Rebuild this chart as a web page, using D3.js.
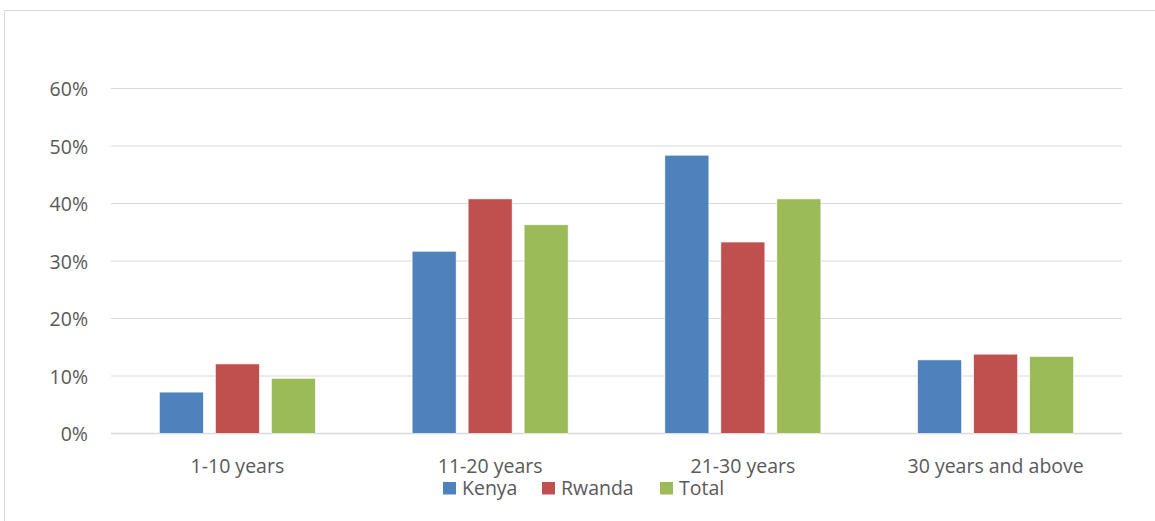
<!DOCTYPE html>
<html>
<head>
<meta charset="utf-8">
<script src="https://cdn.jsdelivr.net/npm/d3@7"></script>
<style>
  html, body { margin: 0; padding: 0; background: #fff; }
  svg { display: block; }
  text { font-family: "Open Sans", "Noto Sans", sans-serif; fill: #595959; }
</style>
</head>
<body>
<svg id="chart" width="1155" height="521"></svg>
<script>
// Years of experience, share of respondents by country
const categories = ["1-10 years", "11-20 years", "21-30 years", "30 years and above"];
const seriesNames = ["Kenya", "Rwanda", "Total"];
const kenya  = [0.072, 0.317, 0.484, 0.128];
const rwanda = [0.121, 0.408, 0.333, 0.138];
const total  = [0.096, 0.363, 0.408, 0.134];
const yTicks = [0, 0.1, 0.2, 0.3, 0.4, 0.5, 0.6];
const colors = ["#4f81bd", "#c0504d", "#9bbb59"];

const seriesValues = [kenya, rwanda, total];

const svg = d3.select("#chart");
const W = 1155, H = 521;
const margin = { left: 111, right: 33, top: 88.5, bottom: 87.5 };

// Chart frame
svg.append("rect")
  .attr("x", 4.5).attr("y", 10.5)
  .attr("width", W + 10).attr("height", H + 10)
  .attr("fill", "none").attr("stroke", "#d9d9d9").attr("stroke-width", 1);

const x0 = d3.scaleBand()
  .domain(categories)
  .range([margin.left, W - margin.right])
  .paddingInner(0).paddingOuter(0);

const x1 = d3.scaleBand()
  .domain(seriesNames)
  .range([0, 156])
  .paddingInner(12 / 56).paddingOuter(0);

const y = d3.scaleLinear()
  .domain([0, 0.6])
  .range([H - margin.bottom, margin.top]);

// Gridlines
svg.append("g")
  .selectAll("line")
  .data(yTicks)
  .join("line")
  .attr("x1", margin.left).attr("x2", W - margin.right)
  .attr("y1", d => y(d)).attr("y2", d => y(d))
  .attr("stroke", "#d9d9d9").attr("stroke-width", d => d === 0 ? 1.5 : 1.2);

// Y axis labels
const yAxis = d3.axisLeft(y).tickValues(yTicks).tickFormat(d3.format(".0%")).tickSize(0).tickPadding(0);
const yg = svg.append("g").attr("transform", `translate(${88},0)`).call(yAxis);
yg.select(".domain").remove();
yg.selectAll("text")
  .attr("font-size", 19.5)
  .attr("dy", "0.36em")
  .style("font-family", '"Open Sans", "Noto Sans", sans-serif')
  .attr("fill", "#595959");

// Bars
const groups = svg.append("g")
  .selectAll("g")
  .data(categories)
  .join("g")
  .attr("transform", c => `translate(${x0(c) + (x0.bandwidth() - 156) / 2},0)`);

groups.selectAll("rect")
  .data((c, i) => seriesNames.map((s, j) => ({ s, j, v: seriesValues[j][i] })))
  .join("rect")
  .attr("x", d => x1(d.s))
  .attr("width", x1.bandwidth())
  .attr("y", d => y(d.v))
  .attr("height", d => y(0) - y(d.v))
  .attr("fill", d => colors[d.j])
  .attr("stroke", "#fff").attr("stroke-width", 0.6);

// X axis labels
const xAxis = d3.axisBottom(x0).tickSize(0).tickPadding(0);
const xg = svg.append("g").attr("transform", `translate(0,${y(0)})`).call(xAxis);
xg.select(".domain").remove();
xg.selectAll("text")
  .attr("y", 39).attr("dy", 0)
  .attr("font-size", 19.5)
  .style("font-family", '"Open Sans", "Noto Sans", sans-serif')
  .attr("fill", "#595959");

// Legend
const legendX = [443, 542, 660];
const legend = svg.append("g")
  .selectAll("g")
  .data(seriesNames)
  .join("g")
  .attr("transform", (d, i) => `translate(${legendX[i]},482)`);
legend.append("rect")
  .attr("width", 13).attr("height", 12.5)
  .attr("fill", (d, i) => colors[i]);
legend.append("text")
  .attr("x", 19).attr("y", 13)
  .attr("font-size", 19.5)
  .text(d => d);
</script>
</body>
</html>
